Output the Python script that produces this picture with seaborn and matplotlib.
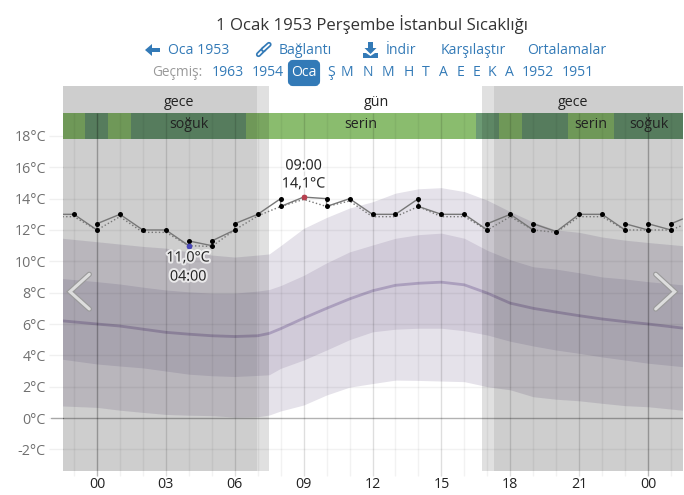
import numpy as np
import pandas as pd
import matplotlib
matplotlib.use('Agg')
import matplotlib.pyplot as plt
import matplotlib.patheffects as pe
from matplotlib.patches import FancyBboxPatch, Polygon
import seaborn as sns

sns.set_style('white')
plt.rcParams['font.family'] = ['Open Sans', 'DejaVu Sans']

# gözlem serileri (saat, °C)
temp_hours = [-1.5, -1, 0, 0, 1, 2, 3, 4, 4, 5, 5, 6, 6, 7, 8, 8, 9, 10, 10, 11, 12, 13, 14, 14,
              15, 16, 17, 17, 18, 19, 19, 20, 21, 22, 23, 23, 24, 24, 25, 25, 25.5]
temp_values = [13.0, 13.0, 12.0, 12.4, 13.0, 12.0, 12.0, 11.0, 11.3, 11.0, 11.3, 12.0, 12.4, 13.0, 14.0, 13.5,
               14.1, 14.0, 13.5, 14.0, 13.0, 13.0, 14.0, 13.5,
               13.0, 13.0, 12.0, 12.4, 13.0, 12.0, 12.4, 11.9, 13.0, 13.0, 12.0, 12.4, 12.0, 12.4, 12.0, 12.4, 12.7]
dot_hours = [-1.5, -1, 0, 1, 2, 3, 4, 5, 6, 7, 8, 9, 10, 11, 12, 13, 14, 15, 16, 17, 18, 19, 20, 21, 22, 23, 24, 25, 25.5]
dot_values = [12.85, 12.85, 12.0, 12.85, 11.85, 11.85, 11.0, 10.95, 12.0, 12.9, 13.5, 13.95, 13.5, 13.85, 12.85,
              12.85, 13.5, 12.85, 12.85, 12.0, 12.85, 12.0, 11.85, 12.85, 12.85, 12.0, 12.0, 12.0, 12.3]

# iklim ortalamaları ve yüzdelik bantları
clim_hours = [-1.5, 0, 1, 2, 3, 4, 5, 6, 7, 7.5, 8, 9, 10, 11, 12, 13, 14, 15, 16, 17, 18, 19, 20, 21, 22, 23, 24, 25.5]
outer_high = [11.47, 11.25, 11.1, 10.95, 10.84, 10.6, 10.4, 10.27, 10.4, 10.47, 11.0, 12.1, 12.8, 13.4, 13.8, 14.35, 14.63,
              14.7, 14.45, 13.9, 13.17, 12.5, 12.0, 11.85, 11.55, 11.35, 11.2, 11.0]
inner_high = [8.9, 8.7, 8.55, 8.35, 8.17, 8.05, 7.97, 7.97, 8.1, 8.2, 8.45, 9.1, 9.9, 10.6, 11.04, 11.47, 11.7,
              11.8, 11.47, 10.7, 10.1, 9.65, 9.5, 9.27, 9.0, 8.87, 8.7, 8.5]
mean_line = [6.2, 6.0, 5.87, 5.67, 5.47, 5.35, 5.25, 5.2, 5.25, 5.4, 5.7, 6.37, 7.0, 7.6, 8.12, 8.47, 8.6,
             8.67, 8.5, 7.97, 7.33, 7.0, 6.76, 6.53, 6.32, 6.15, 6.0, 5.74]
inner_low = [3.75, 3.45, 3.32, 3.2, 3.0, 2.8, 2.7, 2.65, 2.72, 2.76, 3.17, 3.7, 4.34, 5.0, 5.5, 5.67, 5.73,
             5.73, 5.57, 5.3, 4.9, 4.6, 4.34, 4.13, 3.9, 3.7, 3.5, 3.28]
outer_low = [0.77, 0.68, 0.5, 0.36, 0.23, 0.18, 0.15, 0.06, 0.08, 0.19, 0.45, 0.83, 1.47, 1.97, 2.2, 2.42, 2.4,
             2.36, 2.32, 2.0, 1.8, 1.36, 1.2, 1.1, 0.94, 0.79, 0.72, 0.5]

# saatlik his sınıfı: 1 = serin, 0 = soğuk
feel_hours = list(range(-1, 26))
feel_class = [1, 0, 1, 0, 0, 0, 0, 0, 1, 1, 1, 1, 1, 1, 1, 1, 1, 1, 0, 1, 0, 0, 1, 1, 0, 0, 0]

y_ticks = [-2, 0, 2, 4, 6, 8, 10, 12, 14, 16, 18]
x_ticks = [0, 3, 6, 9, 12, 15, 18, 21, 24]
x_labels = ['00', '03', '06', '09', '12', '15', '18', '21', '00']

FEEL_COLORS = {1: '#8abc6e', 0: '#6c9a74'}
W, H = 684, 495
BOTTOM, TOP, BAND = -3.35, 21.19, 17.8
LEFT, RIGHT = -1.5, 25.5

fig = plt.figure(figsize=(W / 100, H / 100), dpi=100)
ax = fig.add_axes([62.5 / W, 1 - 470.5 / H, 620 / W, 384.5 / H])
ax.set_xlim(LEFT, RIGHT)
ax.set_ylim(BOTTOM, TOP)
sns.despine(ax=ax, left=True, bottom=True)

# yüzdelik bantları
ax.fill_between(clim_hours, outer_low, outer_high, color='#e5e2ea', lw=0, zorder=1)
ax.fill_between(clim_hours, inner_low, inner_high, color='#d1cbd9', lw=0, zorder=1.1)
sns.lineplot(x=clim_hours, y=mean_line, color='#ab9fbd', lw=2, ax=ax, zorder=1.2)

# his bandı
ax.bar(feel_hours, TOP - BAND - 1.72, bottom=BAND, width=1.0,
       color=[FEEL_COLORS[c] for c in feel_class], lw=0, zorder=1.3)

# gece gölgeleri
ax.axvspan(LEFT, 7.49, color='black', alpha=0.12, lw=0, zorder=2)
ax.axvspan(LEFT, 6.97, color='black', alpha=0.08, lw=0, zorder=2)
ax.axvspan(16.77, RIGHT, color='black', alpha=0.12, lw=0, zorder=2)
ax.axvspan(17.29, RIGHT, color='black', alpha=0.08, lw=0, zorder=2)

# ızgara
band_top = TOP - 1.72
for h in range(-1, 26):
    a = 0.05
    if h % 3 == 0:
        a = 0.13
    if h % 24 == 0:
        a = 0.28
    ax.plot([h, h], [BOTTOM - 0.35, band_top], color='black', alpha=a, lw=1, zorder=2.5,
            solid_capstyle='butt', clip_on=False)
for t in y_ticks:
    if t == 18:
        continue
    ax.axhline(t, color='black', alpha=0.05 if t else 0.3, lw=1, zorder=2.5)
ax.plot([-2.0, LEFT], [0, 0], color='black', alpha=0.3, lw=1, clip_on=False)

ax.set_yticks(y_ticks)
ax.set_yticklabels([f'{t}°C' for t in y_ticks], color='#707070', fontsize=10.3)
ax.tick_params(axis='y', length=10.4, width=1, color='#f0f0f0', pad=1.5, left=True)
ax.set_xticks(x_ticks)
ax.set_xticklabels(x_labels, color='#222222', fontsize=10.3)
ax.tick_params(axis='x', length=0, pad=5)

# sıcaklık çizgileri
sns.lineplot(x=dot_hours, y=dot_values, color='#777777', lw=1, ls=(0, (1, 1.6)), ax=ax, zorder=3)
sns.lineplot(data=pd.DataFrame({'h': temp_hours, 't': temp_values}), x='h', y='t', color='#777777', lw=1,
             estimator=None, sort=False, ax=ax, zorder=3.1)
sns.scatterplot(x=temp_hours[1:-1], y=temp_values[1:-1], color='black', s=13, linewidth=0, ax=ax, zorder=3.2)
sns.scatterplot(x=[9], y=[14.1], color='#b8404f', s=17, linewidth=0, ax=ax, zorder=3.3)
sns.scatterplot(x=[4], y=[11.0], color='#4a48b8', s=17, linewidth=0, ax=ax, zorder=3.3)
ax.set_xlabel('')
ax.set_ylabel('')

# piksel katmanı: başlık, bağlantılar, etiketler
ov = fig.add_axes([0, 0, 1, 1], facecolor='none')
ov.set_xlim(0, W)
ov.set_ylim(H, 0)
ov.axis('off')

BLUE = '#337ab7'
ov.text(372, 24, '1 Ocak 1953 Perşembe İstanbul Sıcaklığı', ha='center', va='center', fontsize=12.1,
        color='#333333', fontweight='medium')

for label, xc in [('Oca 1953', 198.5), ('Bağlantı', 305.5), ('İndir', 401), ('Karşılaştır', 473.5), ('Ortalamalar', 566.5)]:
    ov.text(xc, 50, label, ha='center', va='center', fontsize=10.1, color=BLUE)

# simgeler
ov.add_patch(Polygon([(145, 50), (152, 44), (152, 48), (160, 48), (160, 52), (152, 52), (152, 56)], color=BLUE, lw=0))
ov.add_patch(Polygon([(368, 42), (373, 42), (373, 48), (376.5, 48), (370.5, 54), (364.5, 48), (368, 48)], color=BLUE, lw=0))
ov.add_patch(Polygon([(363, 53), (366, 53), (370.5, 56), (375, 53), (378, 53), (378, 58), (363, 58)], color=BLUE, lw=0))
for xs, ys in (([258.5, 264], [54.5, 49]), ([263.5, 269], [49.5, 44.5])):
    ov.plot(xs, ys, color=BLUE, lw=3.8, solid_capstyle='round')
    ov.plot(xs, ys, color='white', lw=1.3, solid_capstyle='round')

ov.text(177.5, 72, 'Geçmiş:', ha='center', va='center', fontsize=9.8, color='#999999')
ov.add_patch(FancyBboxPatch((290, 62), 28, 22, boxstyle='round,pad=0,rounding_size=3', color=BLUE, lw=3))
ov.text(304, 72.5, 'Oca', ha='center', va='center', fontsize=10.1, color='white')
for label, xc in [('1963', 227.5), ('1954', 267.5), ('Ş', 331), ('M', 347), ('N', 368), ('M', 388), ('H', 409),
                  ('T', 426), ('A', 443), ('E', 460), ('E', 476), ('K', 492), ('A', 509), ('1952', 538), ('1951', 578)]:
    ov.text(xc, 72, label, ha='center', va='center', fontsize=10.1, color=BLUE)

for label, xc in [('gece', 179), ('gün', 376), ('gece', 573)]:
    ov.text(xc, 102, label, ha='center', va='center', fontsize=10.3, color='#222222')
for label, xc in [('soğuk', 189), ('serin', 361), ('serin', 591), ('soğuk', 649)]:
    ov.text(xc, 124, label, ha='center', va='center', fontsize=10.3, color='#222222')

glow = [pe.withStroke(linewidth=3, foreground='white', alpha=0.7)]
for label, xc, yc in [('09:00', 303.5, 166), ('14,1°C', 303.5, 184), ('11,0°C', 188, 258), ('04:00', 188, 277)]:
    ov.text(xc, yc, label, ha='center', va='center', fontsize=10.3, color='#222222', path_effects=glow)

# kaydırma okları
for xs in ([89.3, 70, 89.3], [655.7, 674.7, 655.7]):
    ov.plot(xs, [274.3, 291.7, 309], color='#9a9a9a', lw=3.8, solid_capstyle='round', solid_joinstyle='miter')
    ov.plot(xs, [274.3, 291.7, 309], color='#dddddd', lw=2.2, solid_capstyle='round', solid_joinstyle='miter')

fig.savefig('out.png', dpi=100)
plt.close(fig)
